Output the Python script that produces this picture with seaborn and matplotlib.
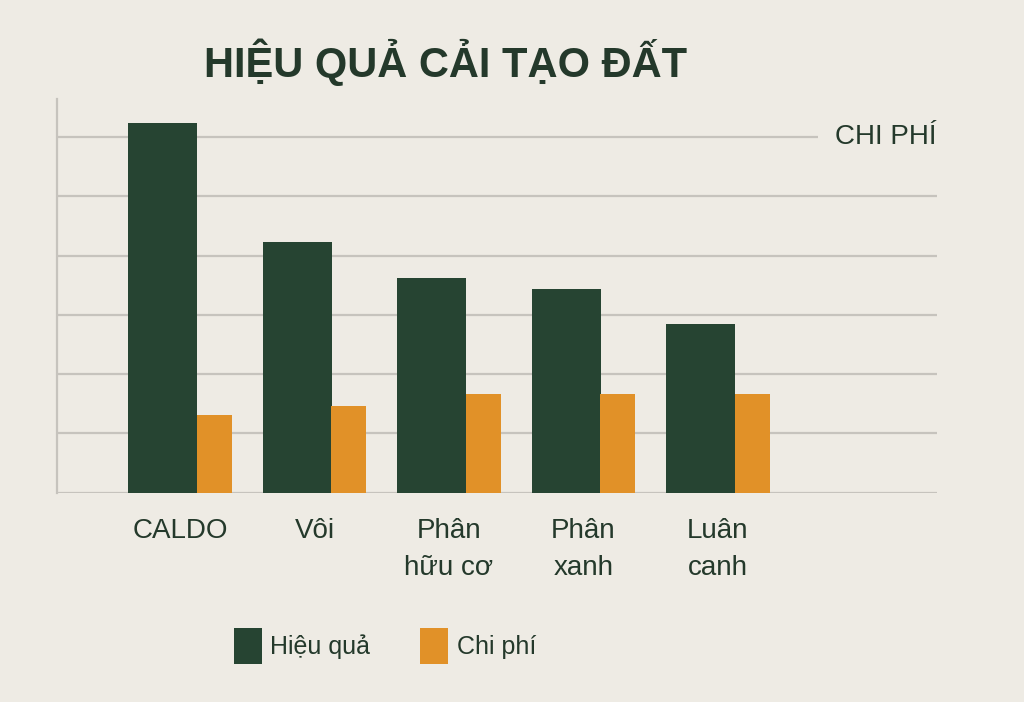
import matplotlib
matplotlib.use("Agg")
import matplotlib.pyplot as plt
import seaborn as sns
import numpy as np

# data (grid step = 1 unit)
categories = ["CALDO", "Vôi", "Phân\nhữu cơ", "Phân\nxanh", "Luân\ncanh"]
hieu_qua = [6.24, 4.23, 3.63, 3.43, 2.84]
chi_phi = [1.31, 1.47, 1.66, 1.66, 1.66]
grid_levels = [0, 1, 2, 3, 4, 5]
top_level = 6

BG = "#eeebe4"
GREEN = "#264432"
ORANGE = "#e19128"
TEXT = "#24392b"
GRID = "#c6c3bd"

sns.set_theme(style="white")
plt.rcParams["font.family"] = ["Liberation Sans", "DejaVu Sans"]

fig = plt.figure(figsize=(10.24, 7.02), dpi=100, facecolor=BG)
ax = fig.add_axes([0.0557, 0.298, 0.8594, 0.561])
ax.set_facecolor(BG)

sns.barplot(x=categories, y=hieu_qua, color=GREEN, width=0.513, saturation=1,
            label="Hiệu quả", ax=ax, zorder=3)
n = len(ax.patches)
sns.barplot(x=categories, y=chi_phi, color=ORANGE, width=0.26, saturation=1,
            label="Chi phí", ax=ax, zorder=3)

# move bars side by side (green wide, orange narrow)
for i, p in enumerate(ax.patches):
    if i < n:
        p.set_x(p.get_x() - 0.129)
    else:
        p.set_x(p.get_x() + 0.255)
    p.set_edgecolor("none")

ax.set_xlim(-0.915, 5.63)
ax.set_ylim(0, 6.64)

ax.hlines(grid_levels, 0, 1, transform=ax.get_yaxis_transform(), colors=GRID, lw=1.6, zorder=1)
ax.hlines(top_level, 0, 0.865, transform=ax.get_yaxis_transform(), colors=GRID, lw=1.6, zorder=1)
ax.text(0.884, top_level, "CHI PHÍ", transform=ax.get_yaxis_transform(),
        ha="left", va="center", fontsize=20, color=TEXT)

for s in ["top", "right", "bottom"]:
    ax.spines[s].set_visible(False)
ax.spines["left"].set_color(GRID)
ax.spines["left"].set_linewidth(1.6)

ax.set_yticks([])
ax.set_ylabel("")
ax.tick_params(axis="x", length=0, pad=18, labelsize=20, labelcolor=TEXT)
for lbl in ax.get_xticklabels():
    lbl.set_linespacing(1.55)

fig.text(0.4355, 0.911, "HIỆU QUẢ CẢI TẠO ĐẤT", ha="center", va="center",
         fontsize=30, fontweight="bold", color=TEXT)

ax.legend(loc="center", bbox_to_anchor=(0.376, 0.08), bbox_transform=fig.transFigure,
          ncol=2, frameon=False, fontsize=18, handlelength=1.12, handleheight=1.8,
          handletextpad=0.35, columnspacing=2.0, labelcolor=TEXT)

fig.savefig("out.png", dpi=100, facecolor=BG)
